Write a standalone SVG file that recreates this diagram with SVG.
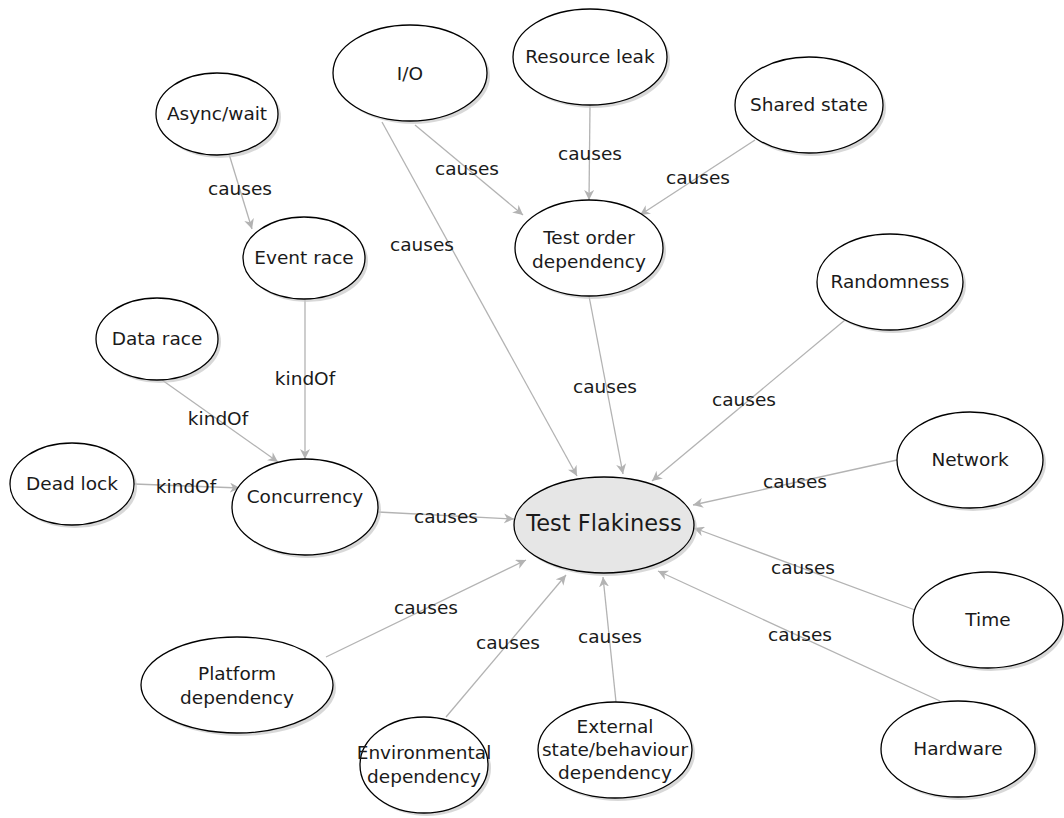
<svg xmlns="http://www.w3.org/2000/svg" width="1064" height="818" viewBox="0 0 1064 818">
<style>
.n ellipse.s{fill:#c8c8c8;stroke:none;opacity:0.7}
.n ellipse.b{fill:#ffffff;stroke:#000;stroke-width:1.3}
.n text{font-family:"DejaVu Sans",Verdana,sans-serif;font-size:18.5px;fill:#1a1a1a;text-anchor:middle;dominant-baseline:central}
#tf ellipse.b{fill:#e6e6e6}
#tf text{font-size:22.5px}
.e line{stroke:#b3b3b3;stroke-width:1.3;marker-end:url(#ar)}
.e text{font-family:"DejaVu Sans",Verdana,sans-serif;font-size:18.5px;fill:#1a1a1a;text-anchor:middle;dominant-baseline:central}
</style>
<defs>
<marker id="ar" markerWidth="12" markerHeight="10" refX="10" refY="5" orient="auto" markerUnits="userSpaceOnUse">
<path d="M0,0 L10,5 L0,10 L3,5 Z" fill="#b3b3b3"/>
</marker>
</defs>
<rect width="1064" height="818" fill="#fff"/>
<g id="connectors" class="e">
<line x1="229" y1="154" x2="252" y2="229"/><text x="240" y="188">causes</text>
<line x1="305" y1="299" x2="305" y2="459"/><text x="305" y="378">kindOf</text>
<line x1="162" y1="380" x2="278" y2="462"/><text x="218" y="418">kindOf</text>
<line x1="134" y1="484" x2="240" y2="488"/><text x="186" y="486">kindOf</text>
<line x1="378" y1="512" x2="514" y2="519"/><text x="446" y="516">causes</text>
<line x1="382" y1="122" x2="577" y2="476"/><text x="422" y="244">causes</text>
<line x1="415" y1="125" x2="523" y2="215"/><text x="467" y="168">causes</text>
<line x1="590" y1="105" x2="589" y2="200"/><text x="590" y="153">causes</text>
<line x1="755" y1="140" x2="640" y2="215"/><text x="698" y="177">causes</text>
<line x1="589" y1="296" x2="623" y2="474"/><text x="605" y="386">causes</text>
<line x1="845" y1="320" x2="652" y2="481"/><text x="744" y="399">causes</text>
<line x1="897" y1="460" x2="693" y2="505"/><text x="795" y="481">causes</text>
<line x1="915" y1="610" x2="694" y2="528"/><text x="803" y="567">causes</text>
<line x1="940" y1="701" x2="658" y2="571"/><text x="800" y="634">causes</text>
<line x1="326" y1="657" x2="526" y2="560"/><text x="426" y="607">causes</text>
<line x1="446" y1="717" x2="566" y2="575"/><text x="508" y="642">causes</text>
<line x1="616" y1="702" x2="603" y2="577"/><text x="610" y="636">causes</text>
</g>
<g id="async" class="n"><ellipse class="s" cx="220" cy="117" rx="61" ry="41"/><ellipse class="b" cx="217" cy="114" rx="61" ry="41"/><text x="217" y="113">Async/wait</text></g>
<g id="io" class="n"><ellipse class="s" cx="413" cy="76" rx="77" ry="48"/><ellipse class="b" cx="410" cy="73" rx="77" ry="48"/><text x="410" y="73">I/O</text></g>
<g id="resleak" class="n"><ellipse class="s" cx="593" cy="60" rx="77" ry="48"/><ellipse class="b" cx="590" cy="57" rx="77" ry="48"/><text x="590" y="56">Resource leak</text></g>
<g id="shared" class="n"><ellipse class="s" cx="812" cy="108" rx="74" ry="48"/><ellipse class="b" cx="809" cy="105" rx="74" ry="48"/><text x="809" y="104">Shared state</text></g>
<g id="eventrace" class="n"><ellipse class="s" cx="307" cy="261" rx="61" ry="41"/><ellipse class="b" cx="304" cy="258" rx="61" ry="41"/><text x="304" y="257">Event race</text></g>
<g id="testorder" class="n"><ellipse class="s" cx="592" cy="251" rx="74" ry="48"/><ellipse class="b" cx="589" cy="248" rx="74" ry="48"/><text x="589" y="237">Test order</text><text x="589" y="261">dependency</text></g>
<g id="randomness" class="n"><ellipse class="s" cx="893" cy="285" rx="73" ry="48"/><ellipse class="b" cx="890" cy="282" rx="73" ry="48"/><text x="890" y="281">Randomness</text></g>
<g id="datarace" class="n"><ellipse class="s" cx="160" cy="342" rx="61" ry="41"/><ellipse class="b" cx="157" cy="339" rx="61" ry="41"/><text x="157" y="338">Data race</text></g>
<g id="deadlock" class="n"><ellipse class="s" cx="75" cy="487" rx="62" ry="41"/><ellipse class="b" cx="72" cy="484" rx="62" ry="41"/><text x="72" y="483">Dead lock</text></g>
<g id="concurrency" class="n"><ellipse class="s" cx="308" cy="510" rx="73" ry="48"/><ellipse class="b" cx="305" cy="507" rx="73" ry="48"/><text x="305" y="496">Concurrency</text></g>
<g id="tf" class="n"><ellipse class="s" cx="607" cy="528" rx="90" ry="48"/><ellipse class="b" cx="604" cy="525" rx="90" ry="48"/><text x="604" y="523">Test Flakiness</text></g>
<g id="network" class="n"><ellipse class="s" cx="973" cy="463" rx="73" ry="48"/><ellipse class="b" cx="970" cy="460" rx="73" ry="48"/><text x="970" y="459">Network</text></g>
<g id="time" class="n"><ellipse class="s" cx="991" cy="623" rx="75" ry="48"/><ellipse class="b" cx="988" cy="620" rx="75" ry="48"/><text x="988" y="619">Time</text></g>
<g id="hardware" class="n"><ellipse class="s" cx="961" cy="752" rx="77" ry="48"/><ellipse class="b" cx="958" cy="749" rx="77" ry="48"/><text x="958" y="748">Hardware</text></g>
<g id="platform" class="n"><ellipse class="s" cx="240" cy="688" rx="96" ry="48"/><ellipse class="b" cx="237" cy="685" rx="96" ry="48"/><text x="237" y="673">Platform</text><text x="237" y="697">dependency</text></g>
<g id="environmental" class="n"><ellipse class="s" cx="427" cy="768" rx="64" ry="48"/><ellipse class="b" cx="424" cy="765" rx="64" ry="48"/><text x="424" y="752">Environmental</text><text x="424" y="776">dependency</text></g>
<g id="external" class="n"><ellipse class="s" cx="618" cy="753" rx="77" ry="48"/><ellipse class="b" cx="615" cy="750" rx="77" ry="48"/><text x="615" y="726">External</text><text x="615" y="749">state/behaviour</text><text x="615" y="772">dependency</text></g>
</svg>
